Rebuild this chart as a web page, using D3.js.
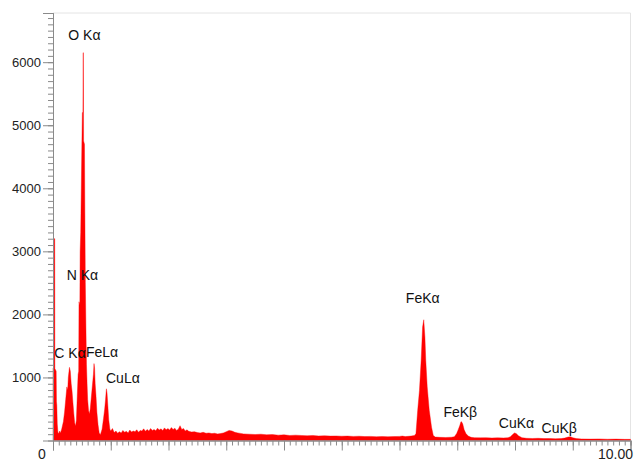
<!DOCTYPE html>
<html>
<head>
<meta charset="utf-8">
<script src="https://cdn.jsdelivr.net/npm/d3@7"></script>
<style>
  body { margin: 0; background: #fff; }
  text { font-family: "Liberation Sans", Arial, sans-serif; }
</style>
</head>
<body>
<svg width="636" height="461"></svg>
<script>
// EDS spectrum: energy (keV) and counts
var energy = [
  0.000, 0.016, 0.018, 0.030, 0.032, 0.055, 0.060, 0.066, 0.074, 0.085,
  0.100, 0.115, 0.130, 0.150, 0.180, 0.200, 0.220, 0.240, 0.255, 0.265,
  0.285, 0.300, 0.315, 0.330, 0.345, 0.360, 0.375, 0.390, 0.405, 0.420,
  0.435, 0.445, 0.450, 0.465, 0.470, 0.480, 0.490, 0.500, 0.508, 0.518,
  0.522, 0.526, 0.530, 0.545, 0.552, 0.560, 0.570, 0.580, 0.590, 0.600,
  0.615, 0.630, 0.645, 0.660, 0.675, 0.690, 0.700, 0.710, 0.720, 0.730,
  0.745, 0.760, 0.780, 0.800, 0.820, 0.850, 0.875, 0.895, 0.910, 0.925,
  0.935, 0.950, 0.965, 0.985, 1.000,
  1.03, 1.06, 1.09, 1.12, 1.15, 1.18, 1.21, 1.24, 1.27, 1.30,
  1.33, 1.36, 1.39, 1.42, 1.45, 1.48, 1.51, 1.54, 1.57, 1.60,
  1.63, 1.66, 1.69, 1.72, 1.75, 1.78, 1.81, 1.84, 1.87, 1.90,
  1.93, 1.96, 1.99, 2.02, 2.05, 2.08, 2.11, 2.14, 2.17, 2.20,
  2.23, 2.26, 2.29, 2.32, 2.35, 2.40, 2.45, 2.50, 2.55, 2.60,
  2.65, 2.70, 2.75, 2.80, 2.85, 2.90, 2.95, 3.00, 3.05, 3.10,
  3.15, 3.20, 3.30, 3.40, 3.50, 3.60, 3.70, 3.80, 3.90, 4.00,
  4.10, 4.20, 4.30, 4.40, 4.50, 4.60, 4.70, 4.80, 4.90, 5.00,
  5.10, 5.20, 5.30, 5.40, 5.50, 5.60, 5.70, 5.80, 5.90, 6.00,
  6.05, 6.10, 6.20, 6.26, 6.285, 6.315, 6.345, 6.375,
  6.40, 6.42, 6.44, 6.455, 6.48, 6.515, 6.555, 6.585, 6.62, 6.70,
  6.80, 6.90, 6.95, 6.99, 7.02, 7.045, 7.065, 7.08, 7.095, 7.12,
  7.15, 7.19, 7.24, 7.30, 7.40, 7.50, 7.60, 7.70, 7.80, 7.88,
  7.92, 7.96, 7.99, 8.02, 8.06, 8.12, 8.20, 8.30, 8.40, 8.50,
  8.60, 8.70, 8.80, 8.86, 8.92, 8.96, 9.00, 9.06, 9.15, 9.30,
  9.45, 9.60, 9.75, 9.90, 10.00
];
var counts = [
  1150, 1150, 3200, 3200, 1140, 1100, 620, 560, 260, 130,
  110, 150, 120, 180, 300, 450, 650, 850, 800, 1000,
  1160, 1100, 900, 780, 600, 430, 280, 230, 320, 700,
  1050, 1100, 2200, 2150, 3000, 3300, 4000, 4700, 5200, 5200,
  6150, 6150, 4750, 4700, 3600, 2500, 1800, 1200, 900, 650,
  480, 420, 500, 650, 800, 950, 1050, 1220, 1150, 900,
  700, 450, 250, 120, 90, 180, 350, 500, 650, 820,
  760, 550, 330, 180, 150,
  190, 125, 150, 115, 140, 120, 160, 130, 145, 120,
  165, 135, 150, 140, 170, 130, 160, 150, 185, 145,
  175, 150, 190, 160, 175, 155, 195, 165, 185, 160,
  200, 170, 190, 165, 205, 175, 195, 160, 180, 235,
  175, 190, 150, 170, 145, 135, 140, 125, 120, 130,
  115, 120, 110, 115, 105, 110, 120, 140, 160, 150,
  130, 120, 105, 100, 95, 100, 90, 95, 85, 90,
  80, 85, 80, 75, 80, 72, 75, 70, 72, 68,
  70, 65, 68, 62, 65, 60, 63, 60, 62, 65,
  70, 62, 70, 80, 110, 480, 790, 1270,
  1800, 1915, 1640, 1270, 850, 480, 210, 80, 55, 50,
  48, 52, 60, 110, 180, 240, 300, 290, 260, 170,
  110, 70, 50, 45, 42, 45, 40, 42, 40, 45,
  60, 95, 120, 110, 75, 45, 35, 32, 35, 30,
  32, 28, 30, 38, 55, 58, 45, 30, 25, 22,
  25, 20, 22, 18, 18
];

var yTickValues = [1000, 2000, 3000, 4000, 5000, 6000];
var xTickLabels = ["0", "10.00"];
var xTickLabelValues = [0, 10];

// peak annotations, anchored in data units (keV, counts)
var peakNames = ["O K\u03b1", "N K\u03b1", "C K\u03b1", "FeL\u03b1", "CuL\u03b1",
                 "FeK\u03b1", "FeK\u03b2", "CuK\u03b1", "CuK\u03b2"];
var peakLabelE = [0.265, 0.237, 0.023, 0.571, 0.918, 6.11, 6.76, 7.72, 8.46];
var peakLabelC = [6352, 2546, 1308, 1324, 912, 2181, 377, 203, 114];

var svg = d3.select("svg");

var x = d3.scaleLinear().domain([0, 10]).range([53, 630.5]);
var y = d3.scaleLinear().domain([0, 6780]).range([440.5, 13]);

var spectrum = energy.map(function(e, i) { return {e: e, c: counts[i]}; });

// light frame on top and right
svg.append("path")
    .attr("d", "M" + x(0) + "," + y(6780) + "H" + x(10) + "V" + y(0))
    .attr("fill", "none")
    .attr("stroke", "#e4e4e4");

var area = d3.area()
    .x(function(d) { return x(d.e); })
    .y0(y(0))
    .y1(function(d) { return y(d.c); });

svg.append("path")
    .datum(spectrum)
    .attr("d", area)
    .attr("fill", "#ff0000")
    .attr("stroke", "#ff0000")
    .attr("stroke-width", 0.4);

// y axis: minor every 100, labelled every 1000
var yMinor = svg.append("g")
    .attr("transform", "translate(" + x(0) + ",0)")
    .call(d3.axisLeft(y).tickValues(d3.range(100, 6701, 100)).tickSize(5).tickFormat(""));
var yMajor = svg.append("g")
    .attr("transform", "translate(" + x(0) + ",0)")
    .call(d3.axisLeft(y).tickValues(yTickValues).tickSize(10).tickPadding(2).tickFormat(d3.format("d")));

// x axis: minor every 0.1 keV, long at whole keV
var xMinor = svg.append("g")
    .attr("transform", "translate(0," + y(0) + ")")
    .call(d3.axisBottom(x).tickValues(d3.range(0, 100.5, 1).map(function(v) { return v / 10; })).tickSize(5).tickFormat(""));
var xMajor = svg.append("g")
    .attr("transform", "translate(0," + y(0) + ")")
    .call(d3.axisBottom(x).tickValues(d3.range(0, 11)).tickSize(10).tickFormat(""));

svg.selectAll(".domain").attr("stroke", "#8a8a8a");
svg.selectAll(".tick line").attr("stroke", "#8a8a8a");
yMajor.selectAll("text")
    .attr("font-size", 13)
    .attr("fill", "#222")
    .style("font-family", "'Liberation Sans', Arial, sans-serif");

// x labels sit a little left of their ticks, like the original
var xLabelShift = [-11, -15];
svg.selectAll(".xlab")
    .data(xTickLabels)
    .enter().append("text")
    .attr("class", "xlab")
    .attr("x", function(d, i) { return x(xTickLabelValues[i]) + xLabelShift[i]; })
    .attr("y", 459)
    .attr("text-anchor", "middle")
    .attr("font-size", 14)
    .attr("fill", "#222")
    .text(function(d) { return d; });

svg.selectAll(".peak")
    .data(peakNames)
    .enter().append("text")
    .attr("class", "peak")
    .attr("x", function(d, i) { return x(peakLabelE[i]); })
    .attr("y", function(d, i) { return y(peakLabelC[i]); })
    .attr("font-size", 14)
    .attr("fill", "#111")
    .text(function(d) { return d; });
</script>
</body>
</html>
